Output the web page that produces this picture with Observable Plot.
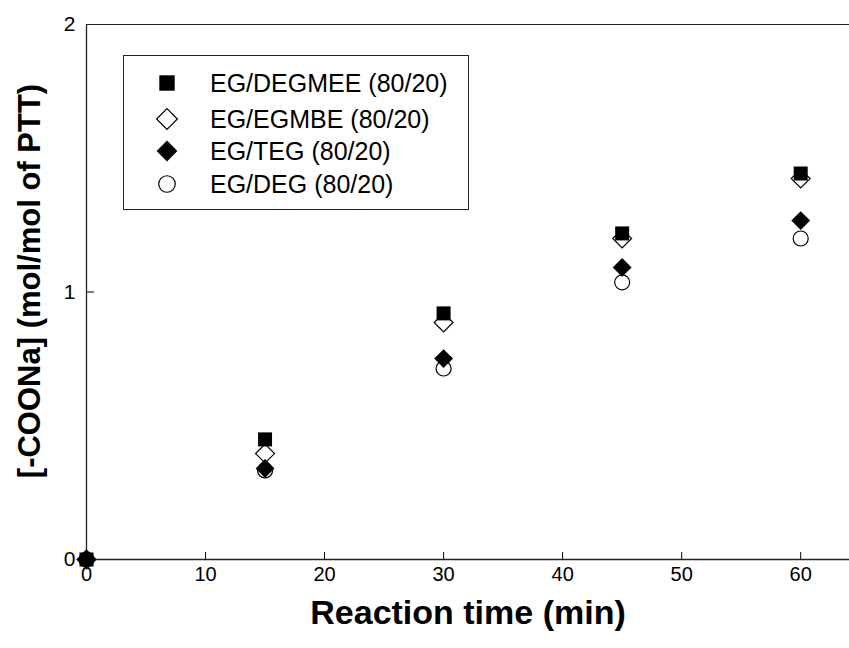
<!DOCTYPE html>
<html><head><meta charset="utf-8">
<script src="https://cdn.jsdelivr.net/npm/d3@7"></script>
<script src="https://cdn.jsdelivr.net/npm/@observablehq/plot@0.6"></script>
<style>
body{margin:0;background:#fff;}
#wrap{position:relative;width:849px;height:648px;font-family:"Liberation Sans",Arial,sans-serif;}
#wrap svg{display:block;}
#legend{position:absolute;left:123px;top:55px;}
</style></head><body><div id="wrap"></div>
<script>
// ---- data ----
const time = [0, 15, 30, 45, 60];
const egDegmee = [0, 0.449, 0.920, 1.219, 1.443];
const egEgmbe  = [0, 0.396, 0.886, 1.200, 1.424];
const egTeg    = [0, 0.340, 0.751, 1.092, 1.267];
const egDeg    = [0, 0.333, 0.714, 1.036, 1.200];
const seriesNames = ["EG/DEGMEE (80/20)", "EG/EGMBE (80/20)", "EG/TEG (80/20)", "EG/DEG (80/20)"];
const xTicks = [0, 10, 20, 30, 40, 50, 60];
const yTicks = [0, 1, 2];
const xLabel = "Reaction time (min)";
const yLabel = "[-COONa] (mol/mol of PTT)";

// ---- styles ----
const styles = [
  {symbol: "square",   r: 7.9,  fill: "black", stroke: "none"},
  {symbol: "diamond2", r: 8.5,  fill: "white", stroke: "black"},
  {symbol: "diamond2", r: 8.5,  fill: "black", stroke: "none"},
  {symbol: "circle",   r: 7.5,  fill: "white", stroke: "black"}
];
const seriesValues = [egDegmee, egEgmbe, egTeg, egDeg];
const tables = seriesValues.map(vals => time.map((t, i) => ({t, v: vals[i]})));
const drawOrder = [3, 1, 2, 0];

const font = '"Liberation Sans", Arial, sans-serif';

const chart = Plot.plot({
  width: 849,
  height: 648,
  marginLeft: 86,
  marginRight: 0,
  marginTop: 24,
  marginBottom: 89,
  style: {fontFamily: font, fontSize: "20px", color: "black", background: "white"},
  x: {domain: [0, 64.1]},
  y: {domain: [0, 2]},
  marks: [
    Plot.axisX(xTicks, {tickSize: -7, tickPadding: 14, fontSize: 20, label: null, stroke: "black", tickFormat: d3.format("d")}),
    Plot.axisY(yTicks, {tickSize: -8, tickPadding: 19, fontSize: 21, label: null, stroke: "black", tickFormat: d3.format("d")}),
    Plot.ruleY([2], {stroke: "#222", strokeWidth: 1}),
    Plot.ruleY([0], {stroke: "#222", strokeWidth: 1.3}),
    Plot.ruleX([0], {stroke: "#222", strokeWidth: 1.3}),
    ...drawOrder.map(k => Plot.dot(tables[k], {
      x: "t", y: "v", symbol: styles[k].symbol, r: styles[k].r,
      fill: styles[k].fill, stroke: styles[k].stroke, strokeWidth: 1.2
    })),
    Plot.text([xLabel], {frameAnchor: "bottom", dy: 64, textAnchor: "middle", fontSize: 34, fontWeight: "bold", text: d => d}),
    Plot.text([yLabel], {frameAnchor: "left", dx: -56, dy: -11, textAnchor: "middle", rotate: -90, fontSize: 31, fontWeight: "bold", text: d => d})
  ]
});
document.getElementById("wrap").appendChild(chart);

// ---- legend (in-plot box) ----
const lw = 346, lh = 155;
const leg = d3.create("svg").attr("id", "legend").attr("width", lw).attr("height", lh);
leg.append("rect").attr("x", 0.5).attr("y", 0.5).attr("width", lw - 1).attr("height", lh - 1)
  .attr("fill", "white").attr("stroke", "#222").attr("stroke-width", 1);
const rowY = [28, 64, 96, 129];
const symMap = {square: d3.symbolSquare, diamond2: d3.symbolDiamond2, circle: d3.symbolCircle};
seriesNames.forEach((name, k) => {
  const s = styles[k];
  const rr = s.r * 1.1;
  leg.append("path")
    .attr("d", d3.symbol(symMap[s.symbol], rr * rr * Math.PI)())
    .attr("transform", `translate(44,${rowY[k]})`)
    .attr("fill", s.fill).attr("stroke", s.stroke).attr("stroke-width", 1.2);
  leg.append("text").attr("x", 87).attr("y", rowY[k]).attr("dy", "0.35em")
    .attr("font-family", font).attr("font-size", 25).text(name);
});
document.getElementById("wrap").appendChild(leg.node());
</script>
</body></html>
